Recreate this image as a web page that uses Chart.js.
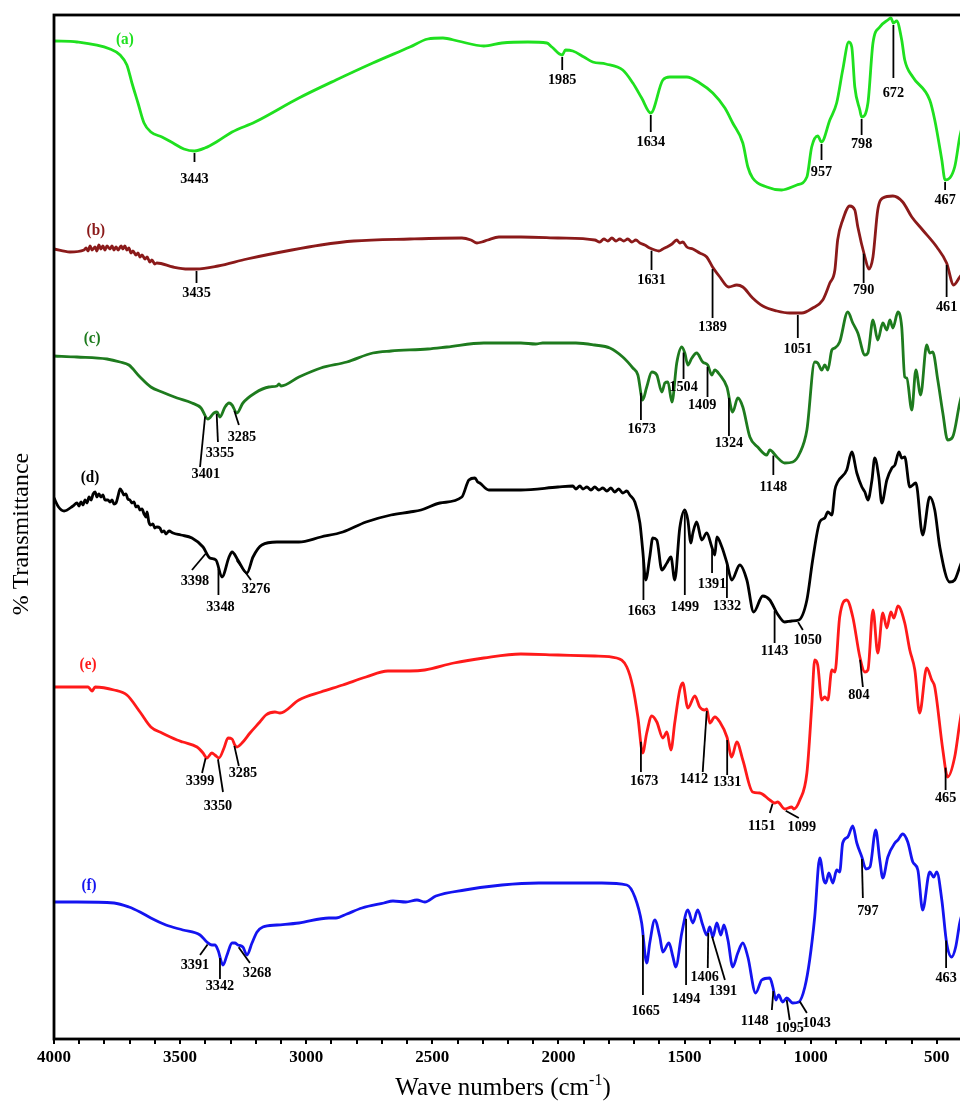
<!DOCTYPE html>
<html>
<head>
<meta charset="utf-8">
<script src="https://cdn.jsdelivr.net/npm/chart.js@4.4.1/dist/chart.umd.min.js"></script>
<style>
  html, body { margin: 0; padding: 0; background: #fff; overflow: hidden; width: 960px; height: 1103px; }
  canvas { display: block; }
</style>
</head>
<body>
<canvas id="ftir" width="966" height="1103"></canvas>
<script>
// Wavenumber axis (cm-1): labels every 500, minor ticks every 100
const xTickLabels = [4000, 3500, 3000, 2500, 2000, 1500, 1000, 500];
const seriesNames = ['(a)', '(b)', '(c)', '(d)', '(e)', '(f)'];

// Stacked FTIR spectra: [wavenumber cm-1, offset transmittance]
const spectrumA = [[4000,998],[3909,997],[3778,990],[3738,984],[3711,974],[3691,956],[3667,936],[3643,916],[3616,907],[3572,902],[3528,896],[3485,890],[3443,888],[3402,891],[3350,898],[3294,907],[3203,917],[3029,941],[2882,959],[2736,976],[2589,992],[2518,1000],[2458,1001],[2399,998],[2296,993],[2224,996],[2121,997],[2046,996],[2026,992],[1985,984],[1972,989],[1943,988],[1899,982],[1864,977],[1812,975],[1745,969],[1705,956],[1670,941],[1634,926],[1586,959],[1558,962],[1491,962],[1440,956],[1388,946],[1340,931],[1309,916],[1269,896],[1249,872],[1230,861],[1174,852],[1115,849],[1055,854],[1015,862],[996,892],[972,903],[957,897],[924,919],[897,936],[873,969],[849,997],[837,992],[825,952],[805,929],[798,922],[773,936],[753,996],[726,1012],[694,1019],[682,1021],[672,1016],[659,1018],[639,999],[627,979],[595,962],[528,939],[508,919],[480,879],[467,859],[429,872],[409,902],[400,912]];

const spectrumB = [[4000,790],[3937,787],[3881,789],[3873,791],[3865,788],[3857,793],[3849,789],[3837,792],[3830,788],[3822,794],[3814,790],[3806,793],[3798,789],[3790,793],[3778,790],[3770,793],[3762,789],[3754,792],[3746,789],[3734,793],[3727,790],[3719,793],[3711,789],[3703,791],[3695,786],[3687,788],[3675,784],[3667,786],[3659,782],[3651,784],[3639,780],[3631,782],[3620,777],[3612,779],[3600,775],[3592,776],[3528,772],[3469,770],[3435,770],[3350,773],[3235,780],[3057,789],[2942,794],[2811,798],[2589,800],[2383,801],[2347,799],[2323,796],[2304,797],[2280,799],[2236,802],[2149,802],[2002,801],[1856,799],[1836,797],[1820,800],[1804,798],[1788,801],[1772,798],[1757,800],[1741,798],[1725,800],[1709,797],[1693,799],[1677,796],[1658,794],[1638,791],[1618,789],[1602,788],[1586,790],[1570,792],[1550,795],[1531,799],[1519,796],[1507,797],[1491,792],[1467,790],[1440,786],[1412,782],[1389,772],[1360,762],[1325,752],[1293,754],[1269,752],[1230,741],[1190,733],[1134,728],[1083,726],[1035,726],[992,731],[952,739],[924,756],[904,769],[893,799],[873,819],[845,833],[825,829],[813,812],[785,782],[769,770],[753,782],[734,829],[714,841],[674,843],[635,837],[599,822],[556,809],[500,792],[461,776],[433,754],[409,762],[400,765]];

const spectrumC = [[4000,683],[3909,682],[3790,680],[3738,677],[3703,674],[3659,662],[3616,652],[3572,647],[3512,641],[3453,636],[3417,631],[3390,620],[3366,626],[3354,627],[3342,622],[3322,632],[3306,636],[3294,634],[3275,626],[3251,636],[3203,646],[3148,652],[3116,653],[3108,655],[3100,653],[3029,662],[2942,671],[2839,677],[2736,686],[2664,688],[2518,690],[2442,692],[2296,696],[2149,696],[2090,695],[2062,696],[1931,696],[1856,694],[1796,691],[1745,682],[1705,671],[1685,664],[1666,639],[1650,652],[1630,667],[1610,664],[1590,647],[1578,656],[1566,657],[1550,637],[1531,676],[1511,692],[1499,686],[1487,674],[1471,681],[1452,686],[1428,677],[1408,674],[1392,664],[1380,669],[1360,664],[1332,652],[1309,627],[1289,641],[1269,632],[1241,602],[1210,592],[1174,584],[1162,589],[1134,582],[1103,576],[1071,577],[1043,586],[1015,609],[984,677],[972,676],[956,669],[944,674],[932,669],[916,689],[904,691],[885,697],[853,727],[833,716],[813,706],[785,684],[773,686],[753,719],[734,699],[714,716],[698,709],[686,719],[674,711],[654,727],[639,712],[627,662],[619,661],[599,629],[583,669],[564,644],[540,694],[528,686],[516,687],[496,659],[476,626],[457,599],[437,602],[409,636],[400,645]];

const spectrumD = [[4000,541],[3982,532],[3960,528],[3925,533],[3909,536],[3901,533],[3893,537],[3885,534],[3877,539],[3869,536],[3861,542],[3853,539],[3845,545],[3837,547],[3830,542],[3822,545],[3814,542],[3806,544],[3798,539],[3786,539],[3778,537],[3770,539],[3762,535],[3754,536],[3746,543],[3738,550],[3731,548],[3723,544],[3715,545],[3707,540],[3699,539],[3691,536],[3683,537],[3675,532],[3667,533],[3659,529],[3651,530],[3643,525],[3635,522],[3631,527],[3624,517],[3616,514],[3608,515],[3600,511],[3592,512],[3580,511],[3572,507],[3564,508],[3556,505],[3544,508],[3528,506],[3497,504],[3453,501],[3409,492],[3382,481],[3358,479],[3334,462],[3306,482],[3294,487],[3271,479],[3235,466],[3211,482],[3176,494],[3116,497],[3029,497],[2942,502],[2855,507],[2763,517],[2664,524],[2589,527],[2545,529],[2470,536],[2383,542],[2355,559],[2331,561],[2320,557],[2312,556],[2276,549],[2149,549],[2002,552],[1943,553],[1931,550],[1915,553],[1903,550],[1887,552],[1871,549],[1856,552],[1840,549],[1824,551],[1808,548],[1792,551],[1777,547],[1761,550],[1745,546],[1729,548],[1717,544],[1697,537],[1677,516],[1666,489],[1654,459],[1638,482],[1626,501],[1610,499],[1590,469],[1570,476],[1554,482],[1539,459],[1519,511],[1499,529],[1487,519],[1475,496],[1467,506],[1452,517],[1432,499],[1412,506],[1392,492],[1380,484],[1372,502],[1352,492],[1332,476],[1313,459],[1281,474],[1253,459],[1226,427],[1190,443],[1162,439],[1134,426],[1103,417],[1075,418],[1047,419],[1015,439],[992,479],[964,517],[944,521],[932,527],[916,524],[904,549],[893,557],[857,569],[837,587],[817,566],[797,552],[785,547],[773,539],[757,559],[746,581],[730,562],[718,536],[698,559],[678,571],[666,574],[650,587],[639,581],[627,582],[607,552],[583,556],[556,504],[528,542],[508,529],[488,492],[449,457],[429,459],[409,472],[400,478]];

const spectrumE = [[4000,352],[3937,352],[3865,352],[3857,350],[3849,348],[3837,352],[3762,349],[3711,344],[3659,327],[3616,312],[3572,306],[3512,299],[3489,297],[3433,292],[3409,286],[3394,281],[3374,286],[3362,284],[3346,281],[3326,291],[3310,301],[3294,300],[3283,294],[3275,292],[3251,297],[3223,306],[3184,317],[3160,324],[3124,327],[3104,326],[3029,339],[2942,347],[2855,354],[2763,362],[2676,368],[2589,368],[2530,369],[2415,376],[2296,381],[2149,385],[2002,384],[1856,383],[1769,381],[1729,372],[1705,352],[1685,322],[1666,286],[1650,306],[1630,323],[1610,317],[1586,301],[1570,307],[1554,289],[1539,316],[1519,349],[1507,356],[1487,331],[1459,343],[1440,332],[1420,329],[1412,330],[1400,316],[1380,322],[1360,317],[1332,302],[1313,282],[1293,297],[1269,279],[1230,247],[1202,246],[1162,239],[1142,236],[1131,237],[1103,230],[1075,232],[1067,230],[1043,239],[1015,266],[996,332],[984,379],[972,374],[956,339],[944,342],[932,339],[916,369],[904,367],[885,422],[857,439],[833,422],[805,382],[785,367],[773,369],[753,429],[734,386],[714,426],[698,411],[682,427],[670,421],[654,433],[627,416],[607,389],[587,369],[568,326],[540,371],[520,359],[508,352],[476,289],[457,262],[429,282],[409,316],[400,330]];

const spectrumF = [[4000,137],[3909,137],[3762,136],[3703,132],[3659,127],[3616,121],[3556,114],[3489,109],[3421,104],[3394,97],[3374,94],[3362,94],[3350,89],[3330,74],[3314,84],[3294,96],[3283,96],[3271,94],[3251,92],[3235,84],[3215,96],[3195,107],[3172,112],[3116,114],[3029,116],[2910,121],[2882,121],[2839,125],[2779,131],[2692,136],[2656,138],[2605,137],[2561,139],[2530,137],[2486,143],[2371,149],[2224,154],[2078,156],[1931,156],[1828,156],[1729,154],[1697,142],[1670,116],[1650,76],[1638,96],[1618,119],[1598,102],[1586,87],[1562,96],[1546,82],[1535,72],[1511,106],[1487,129],[1467,116],[1448,129],[1428,114],[1412,104],[1400,112],[1388,102],[1372,116],[1356,104],[1344,114],[1328,99],[1309,72],[1289,86],[1269,96],[1249,82],[1218,46],[1194,59],[1162,61],[1150,52],[1138,39],[1127,44],[1111,37],[1095,41],[1071,36],[1047,37],[1023,52],[1004,79],[984,122],[964,181],[948,159],[940,156],[928,166],[912,156],[897,169],[885,167],[873,196],[853,202],[833,213],[817,196],[797,182],[781,170],[765,172],[742,209],[726,179],[714,161],[694,182],[666,196],[654,199],[635,205],[615,197],[595,177],[575,169],[556,129],[528,167],[512,162],[500,167],[480,139],[461,96],[441,82],[425,92],[409,116],[400,125]];

// Assigned band positions (cm-1) for each spectrum
const peaksA = [3443, 1985, 1634, 957, 798, 672, 467];
const peaksB = [3435, 1631, 1389, 1051, 790, 461];
const peaksC = [3401, 3355, 3285, 1673, 1504, 1409, 1324, 1148];
const peaksD = [3398, 3348, 3276, 1663, 1499, 1391, 1332, 1143, 1050];
const peaksE = [3399, 3350, 3285, 1673, 1412, 1331, 1151, 1099, 804, 465];
const peaksF = [3391, 3342, 3268, 1665, 1494, 1406, 1391, 1148, 1095, 1043, 797, 463];

// Where each band label sits, in axis units: [text x, text y, leader end x, leader end y]
const labelLayout = {
  a: {3443:[3443,860,3443,877], 1985:[1985,959,1985,969], 1634:[1634,897,1634,907], 957:[957,867,957,879],
      798:[798,895,798,904], 672:[672,946,672,961], 467:[467,839,467,849]},
  b: {3435:[3435,746,3435,756], 1631:[1631,759,1631,769], 1389:[1389,712,1389,721], 1051:[1051,690,1051,701],
      790:[790,749,790,756], 461:[461,732,461,742]},
  c: {3401:[3398,565,3421,572], 3355:[3342,586,3350,597], 3285:[3255,602,3267,614], 1673:[1670,610,1673,619],
      1504:[1504,652,1504,660], 1409:[1430,634,1409,642], 1324:[1324,596,1324,603], 1148:[1148,552,1148,564]},
  d: {3398:[3441,458,3453,469], 3348:[3340,432,3348,444], 3276:[3199,450,3219,459], 1663:[1670,428,1663,439],
      1499:[1499,432,1499,444], 1391:[1391,455,1391,466], 1332:[1332,433,1332,441], 1143:[1143,388,1143,396],
      1050:[1012,399,1031,409]},
  e: {3399:[3421,258,3413,266], 3350:[3350,233,3330,247], 3285:[3251,266,3267,273], 1673:[1660,258,1673,267],
      1412:[1463,260,1428,267], 1331:[1331,257,1331,264], 1151:[1194,213,1162,226], 1099:[1035,212,1047,221],
      804:[809,344,793,352], 465:[465,241,465,249]},
  f: {3391:[3441,74,3421,84], 3342:[3342,53,3342,60], 3268:[3195,66,3223,76], 1665:[1654,28,1665,44],
      1494:[1494,40,1494,54], 1406:[1420,62,1408,71], 1391:[1348,48,1340,59], 1148:[1222,18,1154,29],
      1095:[1083,11,1083,19], 1043:[976,16,1015,26], 797:[773,128,793,141], 463:[463,61,463,71]}
};

// Position of each trace's letter tag, in axis units
const nameLayout = { a:[3719,999], b:[3834,808], c:[3849,700], d:[3857,561], e:[3865,374], f:[3861,153] };

const traceColors = { a:'#1fe01f', b:'#8b1a1a', c:'#1e7b1e', d:'#000000', e:'#ff1a1a', f:'#1414f0' };

const series = [
  { key:'a', data: spectrumA, peaks: peaksA },
  { key:'b', data: spectrumB, peaks: peaksB },
  { key:'c', data: spectrumC, peaks: peaksC },
  { key:'d', data: spectrumD, peaks: peaksD },
  { key:'e', data: spectrumE, peaks: peaksE },
  { key:'f', data: spectrumF, peaks: peaksF }
];

const SERIF = '"Liberation Serif", "Times New Roman", serif';

// Linear read of a trace at a given wavenumber (points run high -> low)
function traceAt(points, v) {
  for (let i = 0; i < points.length - 1; i++) {
    const [x0, y0] = points[i], [x1, y1] = points[i + 1];
    if (v <= x0 && v >= x1) {
      const t = x0 === x1 ? 0 : (x0 - v) / (x0 - x1);
      return y0 + (y1 - y0) * t;
    }
  }
  return points[points.length - 1][1];
}

function narrowText(ctx, text, x, y, font, squeeze, color) {
  ctx.save();
  ctx.translate(x, y);
  ctx.scale(squeeze, 1);
  ctx.font = font;
  ctx.fillStyle = color;
  ctx.textAlign = 'center';
  ctx.textBaseline = 'middle';
  ctx.fillText(text, 0, 0);
  ctx.restore();
}

const bandLabels = {
  id: 'bandLabels',
  afterDatasetsDraw(chart) {
    const { ctx, scales: { x: xs, y: ys } } = chart;
    ctx.save();
    series.forEach((s, i) => {
      const lay = labelLayout[s.key];
      s.peaks.forEach(v => {
        const p = lay[v];
        const x0 = xs.getPixelForValue(v);
        const y0 = ys.getPixelForValue(traceAt(s.data, v)) + 2;
        const x1 = xs.getPixelForValue(p[2]);
        const y1 = ys.getPixelForValue(p[3]);
        ctx.beginPath();
        ctx.strokeStyle = '#000';
        ctx.lineWidth = 1.8;
        ctx.moveTo(x0, y0);
        ctx.lineTo(x1, y1);
        ctx.stroke();
        narrowText(ctx, String(v), xs.getPixelForValue(p[0]), ys.getPixelForValue(p[1]),
                   'bold 15px ' + SERIF, 0.95, '#000');
      });
      const n = nameLayout[s.key];
      narrowText(ctx, seriesNames[i], xs.getPixelForValue(n[0]), ys.getPixelForValue(n[1]),
                 'bold 16px ' + SERIF, 0.95, traceColors[s.key]);
    });
    ctx.restore();
  },
  afterDraw(chart) {
    const { ctx, chartArea: a } = chart;
    ctx.save();
    // plot frame
    ctx.strokeStyle = '#000';
    ctx.lineWidth = 2.8;
    ctx.strokeRect(a.left, a.top, a.right - a.left, a.bottom - a.top);

    // x-axis title with superscript
    ctx.fillStyle = '#000';
    ctx.textBaseline = 'alphabetic';
    ctx.textAlign = 'left';
    const main = 'Wave numbers (cm', sup = '-1', tail = ')';
    const fMain = '25px ' + SERIF, fSup = '16px ' + SERIF;
    ctx.font = fMain;
    const wMain = ctx.measureText(main).width, wTail = ctx.measureText(tail).width;
    ctx.font = fSup;
    const wSup = ctx.measureText(sup).width;
    let x = 503 - (wMain + wSup + wTail) / 2;
    const base = 1095;
    ctx.font = fMain; ctx.fillText(main, x, base); x += wMain;
    ctx.font = fSup;  ctx.fillText(sup, x, base - 10); x += wSup;
    ctx.font = fMain; ctx.fillText(tail, x, base);

    // y-axis title
    ctx.translate(22, 534);
    ctx.rotate(-Math.PI / 2);
    ctx.font = '24px ' + SERIF;
    ctx.textAlign = 'center';
    ctx.textBaseline = 'middle';
    ctx.fillText('% Transmittance', 0, 0);
    ctx.restore();
  }
};

new Chart(document.getElementById('ftir'), {
  type: 'line',
  data: {
    datasets: series.map(s => ({
      label: s.key,
      data: s.data.map(([x, y]) => ({ x, y })),
      borderColor: traceColors[s.key],
      borderWidth: 2.8,
      pointRadius: 0,
      fill: false,
      cubicInterpolationMode: 'monotone'
    }))
  },
  options: {
    responsive: false,
    animation: false,
    devicePixelRatio: 1,
    layout: { padding: { left: 54, top: 15, right: 4, bottom: 0 } },
    plugins: { legend: { display: false }, tooltip: { enabled: false } },
    scales: {
      x: {
        type: 'linear',
        reverse: true,
        min: 400,
        max: 4000,
        border: { display: false },
        grid: { drawOnChartArea: false, drawTicks: true, tickLength: 5, color: '#000', lineWidth: 2 },
        ticks: {
          stepSize: 100,
          autoSkip: false,
          maxRotation: 0,
          padding: 3,
          color: '#000',
          font: { family: SERIF, size: 17, weight: 'bold' },
          callback: v => xTickLabels.includes(v) ? String(v) : ''
        },
        afterFit: sc => { sc.height = 64; }
      },
      y: { type: 'linear', display: false, min: 0, max: 1024 }
    }
  },
  plugins: [bandLabels]
});
</script>
</body>
</html>
